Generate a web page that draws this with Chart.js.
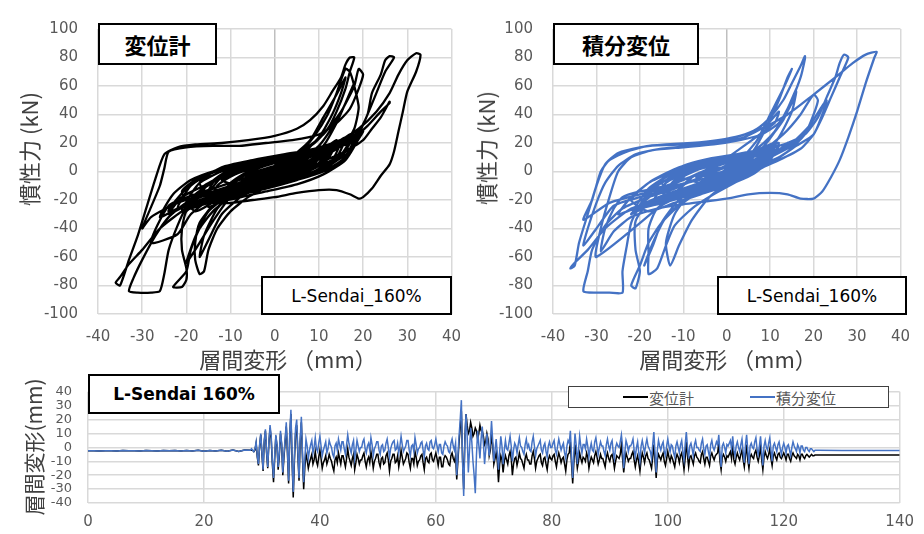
<!DOCTYPE html>
<html lang="ja">
<head>
<meta charset="utf-8">
<title>L-Sendai 160%</title>
<script src="https://cdn.jsdelivr.net/npm/chart.js@4.4.1/dist/chart.umd.min.js"></script>
<style>
  body { margin: 0; width: 924px; height: 534px; position: relative; overflow: hidden; background: #fff;
         font-family: "Noto Sans CJK JP", sans-serif; }
  canvas { position: absolute; }
  .box { position: absolute; box-sizing: border-box; border: 2px solid #000; background: #fff;
         display: flex; align-items: center; justify-content: center; color: #000; white-space: nowrap; }
  .title { position: absolute; white-space: nowrap; color: #404040; font-size: 22px; line-height: 1;
           transform: translate(-50%, -50%); }
  .vtitle { transform: translate(-50%, -50%) rotate(-90deg); }
  .legend { position: absolute; box-sizing: border-box; border: 1.5px solid #404040; background: #fff; }
  .legend span { position: absolute; top: 50%; transform: translateY(-50%); font-size: 15px; color: #595959; white-space: nowrap; }
  .legend i { position: absolute; top: 50%; height: 2px; width: 25px; margin-top: -1px; }
</style>
</head>
<body>
<canvas id="hystGauge" width="475" height="370" style="left:0;top:0"></canvas>
<canvas id="hystInteg" width="454" height="370" style="left:470px;top:0"></canvas>
<canvas id="history" width="924" height="166" style="left:0;top:368px"></canvas>

<div class="box" style="left:98px;top:23px;width:119px;height:42px;font-size:22px;font-weight:bold;">変位計</div>
<div class="box" style="left:261px;top:276px;width:191px;height:39px;font-size:17px;font-family:'DejaVu Sans';">L-Sendai_160%</div>
<div class="box" style="left:553px;top:23px;width:146px;height:42px;font-size:22px;font-weight:bold;">積分変位</div>
<div class="box" style="left:717px;top:276px;width:190px;height:39px;font-size:17px;font-family:'DejaVu Sans';">L-Sendai_160%</div>
<div class="box" style="left:88px;top:374px;width:192px;height:40px;font-size:17px;font-weight:bold;font-family:'DejaVu Sans';">L-Sendai 160%</div>

<div class="legend" style="left:568px;top:386px;width:321px;height:22px;">
  <i style="left:54px;background:#000;"></i><span style="left:80px;">変位計</span>
  <i style="left:181px;background:#4472C4;"></i><span style="left:207px;">積分変位</span>
</div>

<div class="title vtitle" style="left:28px;top:149px;">慣性力 (kN)</div>
<div class="title vtitle" style="left:485px;top:148px;">慣性力 (kN)</div>
<div class="title" style="left:288px;top:358px;">層間変形 （mm）</div>
<div class="title" style="left:728px;top:358px;">層間変形 （mm）</div>
<div class="title vtitle" style="left:33px;top:447px;font-size:21px;">層間変形(mm)</div>

<script>
// hysteresis, 変位計 : [drift mm, force kN]
const gaugeEarly = [
  [-2,-3],[2,3],[5,8],[1,2],[-4,-6],[-7,-10],[-2,-4],[4,5],[8,12],[3,4],[-6,-8],[-10,-13],[-4,-7],[5,6],
  [10,14],[4,5],[-8,-10],[-12,-15],[-6,-10],[2,-2],[8,8],[13,18],[14,22],[10,14],[2,2],[-6,-8],[-12,-14],
  [-18,-22],[-19,-26],[-14,-20],[-6,-13],[2,-4],[8,6],[12,14],[16,24],[17,26],[12,14],[4,2],[-4,-8],
  [-12,-16],[-20,-26],[-26,-40],[-30,-55],[-33,-65],[-35,-74],[-36,-78],[-35,-80]
];
const gaugeLarge = [
  [-33,-62],[-31,-45],[-29,-25],[-27,-5],[-25,12],[-22,17],[-18,19],[-12,20],[-6,22],[0,25],[5,30],[8,36],
  [11,46],[13,56],[15,66],[16,75],[17,80],[18,80],
  [17,70],[16,58],[14,42],[12,30],[9,20],[4,10],[-2,0],[-8,-8],[-15,-16],[-20,-22],[-24,-32],[-27,-45],
  [-30,-62],[-32,-75],[-33,-84],[-31,-85],[-28,-85],[-26,-84],
  [-25,-72],[-24,-55],[-22,-38],[-20,-25],[-17,-16],[-12,-10],[-6,-4],[0,2],[6,8],[12,16],[16,22],[19,28],
  [21,40],[22,55],[24,68],[25,78],[26,81],[27,80],
  [25,70],[23,55],[21,40],[19,26],[17,16],[13,8],[7,0],[0,-8],[-6,-14],[-12,-18],[-17,-22],[-20,-28],
  [-21,-40],[-21,-55],[-20,-68],[-20,-76],[-21,-81],[-23,-81],
  [-20,-70],[-19,-55],[-17,-40],[-14,-28],[-10,-18],[-4,-8],[2,0],[8,8],[14,16],[18,24],[20,28],
  [16,22],[10,10],[4,2],[-4,-8],[-10,-16],[-14,-24],[-17,-36],[-18,-50],[-18,-62],[-17,-72],[-16,-70],
  [-15,-55],[-13,-40],[-10,-28],[-6,-18],[0,-8],[6,2],[12,12],[16,20],[18,30],[19,45],[18,60],[17,70],[16,72],
  [14,55],[12,40],[9,25],[6,14],[2,4],[-4,-4],[-10,-10],[-16,-16],[-22,-22],[-28,-32],[-30,-40],
  [-28,-25],[-26,-10],[-25,2],[-24,14],[-20,17],[-14,18],[-8,18],[-2,20],[4,22],[10,26],[14,34],[17,44],
  [19,58],[20,68],[19,72],
  [18,60],[15,42],[11,26],[6,14],[0,4],[-6,-4],[-12,-10],[-18,-16],[-24,-24],[-28,-50],[-22,-44],[-19,-30],
  [-14,-18],[-8,-8],[-2,0],[4,6],[10,14],[15,22],[19,30],[23,42],[26,55],[28,68],[30,78],[32,83],[33,82],
  [32,70],[30,56],[29,42],[28,28],[27,14],[26,5],[24,-3],[22,-12],[20,-18],[19,-19],[17,-16],[14,-13],
  [10,-13],[5,-15],[0,-18],[-5,-20],[-10,-22],[-14,-22],
  [-10,-14],[-4,-6],[2,2],[8,10],[14,18],[18,24],[21,32],[24,42],[26,48],[26,49],[24,38],[22,30],[20,22],
  [16,14],[10,6],[4,-2],[-2,-8],[-8,-12]
];
const gaugeFan = [
  [-6,-2],[0,4],[6,12],[10,24],[13,40],[15,55],[16,66],[14,54],[11,38],[8,22],[3,8],[-3,-4],[-9,-14],
  [-13,-26],[-16,-45],[-17,-60],[-15,-48],[-12,-30],[-7,-16],[-1,-4],[6,6],[11,18],[14,34],[16,48],
  [18,62],[17,54],[14,36],[10,18],[4,4],[-4,-8],[-10,-18],[-14,-35],[-18,-55],[-20,-64],[-18,-46],
  [-15,-28],[-10,-16],[-4,-8]
];
const gaugeCore = [
  [-8,-10],[-6,-3],[-3,1],[0,3],[3,5],[6,8],[4,2],[1,-2],[-2,-5],[-5,-7],[-8,-10],
  [-12,-6],[-8,0],[-3,4],[2,7],[6,10],[10,14],[8,6],[4,0],[-1,-6],[-6,-11],[-10,-14],[-14,-18],
  [-17,-8],[-12,3],[-5,8],[2,12],[8,15],[12,18],[15,22],[13,8],[8,-2],[2,-8],[-5,-13],[-12,-17],[-17,-21],[-20,-25],
  [-16,-12],[-12,-2],[-6,5],[0,10],[6,14],[12,18],[16,22],[18,26],[15,10],[10,0],[4,-6],[-2,-12],[-8,-16],[-13,-20],[-18,-28],
  [-21,-14],[-17,-4],[-11,2],[-5,6],[2,10],[8,14],[12,18],[10,6],[5,-2],[-1,-9],[-8,-15],[-14,-20],[-20,-24],[-24,-30],
  [-21,-18],[-16,-10],[-10,-2],[-4,4],[2,9],[8,13],[14,17],[18,21],[20,28],[17,14],[12,4],[6,-4],[0,-10],[-6,-15],[-12,-20],
  [-10,-8],[-6,0],[0,6],[6,11],[12,16],[16,24],[14,10],[9,0],[3,-7],[-4,-12],[-11,-17],[-17,-21],[-22,-26],
  [-19,-10],[-14,0],[-8,5],[-1,9],[6,13],[14,20],[11,6],[6,-2],[0,-8],[-6,-13],[-12,-18],[-16,-22],
  [-14,-8],[-10,0],[-4,5],[2,10],[9,14],[15,18],[18,24],[16,10],[11,0],[5,-6],[-2,-12],[-9,-17],[-16,-21],[-22,-26],[-26,-32],
  [-23,-16],[-19,-6],[-13,1],[-6,6],[1,8],[6,11],[12,16],[9,6],[4,-2],[-2,-7],[-7,-11],[-10,-14],
  [-8,-4],[-4,2],[1,7],[8,12],[5,2],[0,-6],[-7,-12],[-14,-17],[-20,-22],
  [-17,-8],[-12,0],[-6,4],[0,7],[4,8],[11,13],[17,22],[14,8],[8,-1],[2,-8],[-5,-14],[-11,-19],[-15,-25],
  [-13,-10],[-9,-2],[-3,4],[3,8],[9,12],[13,16],[10,4],[4,-4],[-2,-10],[-8,-14],[-12,-16],
  [-24,-28],[-20,-12],[-15,-2],[-9,4],[-2,8],[5,12],[11,16],[16,20],[19,24],[16,8],[11,-2],[5,-9],[-2,-14],
  [-9,-19],[-16,-23],[-21,-27],
  [-18,-16],[-13,-6],[-7,1],[0,6],[7,10],[13,14],[10,2],[4,-6],[-3,-12],[-10,-17],[-16,-21],
  [-12,-4],[-6,3],[1,8],[8,13],[13,18],[11,8],[6,-1],[0,-7],[-7,-13],[-13,-19],[-19,-25],
  [-16,-10],[-10,-1],[-3,5],[4,9],[10,13],[7,3],[1,-5],[-5,-10],[-11,-15],
  [-7,-3],[-1,3],[6,8],[3,-1],[-3,-7],[-8,-11],[-4,-4],[0,0]
];

// hysteresis, 積分変位
const integEarly = [
  [-2,-2],[3,4],[6,9],[2,3],[-4,-5],[-8,-10],[-3,-5],[4,4],[9,12],[4,5],[-6,-8],[-11,-14],[-5,-8],[4,4],
  [11,15],[5,6],[-8,-10],[-14,-18],[-8,-12],[2,-2],[9,8],[14,20],[12,14],[4,3],[-6,-8],[-14,-16],
  [-20,-24],[-22,-30],[-18,-24],[-8,-12],[2,-2],[10,10],[15,18],[18,28],[16,22],
  [10,12],[2,0],[-6,-10],[-14,-18],[-22,-26],[-28,-40],[-32,-55],[-35,-64],[-36,-68],[-35,-66]
];
const integLarge = [
  [-34,-50],[-32,-30],[-30,-10],[-28,5],[-25,13],[-20,17],[-14,19],[-8,20],[-2,22],[3,25],[7,30],[10,38],
  [13,50],[15,62],[17,74],[18,81],[18,79],
  [17,66],[15,50],[13,36],[10,24],[6,14],[0,4],[-6,-4],[-12,-12],[-18,-18],[-24,-26],[-28,-38],[-31,-55],
  [-32,-70],[-33,-84],[-30,-85],[-27,-85],[-24,-85],
  [-24,-70],[-23,-52],[-22,-36],[-20,-24],[-16,-14],[-10,-6],[-4,2],[2,8],[8,14],[14,20],[18,26],[21,38],
  [23,52],[25,66],[26,76],[27,82],[28,80],
  [26,66],[24,52],[22,38],[20,26],[17,16],[12,8],[6,0],[0,-8],[-6,-14],[-12,-18],[-18,-22],[-21,-35],
  [-21,-55],[-20,-70],[-21,-82],[-22,-80],
  [-20,-66],[-18,-50],[-15,-36],[-11,-24],[-6,-14],[0,-6],[6,2],[12,10],[16,18],[20,26],[22,40],[23,50],[22,46],
  [19,32],[15,20],[10,10],[4,2],[-4,-8],[-10,-16],[-16,-26],[-18,-40],[-18,-58],[-18,-72],[-16,-68],
  [-14,-52],[-12,-38],[-8,-26],[-3,-16],[3,-6],[9,4],[14,14],[18,26],[20,40],[21,50],[20,54],
  [17,40],[13,26],[8,14],[2,4],[-4,-4],[-12,-10],[-20,-16],[-27,-22],[-33,-34],
  [-31,-20],[-29,0],[-27,8],[-23,14],[-18,18],[-10,19],[-4,20],[2,24],[8,30],[14,40],[20,54],[25,66],
  [29,76],[32,82],[34.5,84],[34,80],
  [32,62],[30,42],[28,24],[26,8],[24,-4],[22,-14],[20,-19],[17,-19],[14,-16],[10,-15],[5,-16],[0,-19],
  [-5,-21],[-10,-23],[-16,-26],[-22,-32],[-26,-42],[-29,-56],
  [-28,-40],[-26,-26],[-24,-18],[-20,-14],[-14,-10],[-8,-4]
];
const integFan = [
  [-30,-60],[-29,-40],[-27,-18],[-25,0],[-22,10],[-17,15],[-10,17],[-3,19],[3,22],[8,26],[12,34],[15,48],
  [16,58],[14,44],[11,28],[7,16],[1,6],[-6,-4],[-13,-12],[-20,-18],[-26,-24],[-30,-40],[-33,-52],
  [-32,-40],[-30,-22],[-28,-8],[-25,4],[-21,12],[-15,16],[-8,18],[-2,20],[4,24],[9,32],[12,42],[11,34],
  [-4,0],[2,6],[6,14],[9,30],[12,50],[14,66],[15,72],[13,58],[10,40],[7,22],[3,8],[-3,-4],[-8,-14],
  [-12,-30],[-14,-50],[-13,-66],[-11,-52],[-8,-34],[-4,-18],[2,-4],[8,8],[12,24],[15,42],[16,56],[15,48],
  [12,32],[8,16],[2,4],[-5,-8],[-11,-20],[-15,-36],[-17,-52],[-19,-66],[-17,-50],[-14,-32],[-9,-18],[-3,-6]
];
const integCore = [
  [-6,-8],[-4,-2],[-1,2],[2,4],[5,7],[3,1],[0,-3],[-3,-6],[-6,-8],
  [-10,-4],[-6,2],[-1,6],[4,9],[9,14],[7,4],[2,-3],[-3,-8],[-8,-12],[-13,-17],
  [-15,-6],[-10,4],[-4,9],[2,12],[7,15],[11,20],[9,6],[4,-4],[-2,-10],[-9,-15],[-15,-20],[-20,-26],
  [-18,-14],[-14,-4],[-8,4],[-2,9],[4,13],[9,16],[12,20],[10,8],[6,-2],[0,-10],[-6,-16],[-12,-22],[-18,-28],
  [-22,-20],[-18,-8],[-12,0],[-6,6],[0,10],[6,13],[10,16],[8,4],[3,-4],[-3,-11],[-10,-17],[-16,-22],[-22,-27],[-25,-30],
  [-22,-18],[-17,-6],[-11,3],[-4,8],[3,12],[8,15],[12,18],[9,6],[4,-3],[-2,-10],[-8,-15],[-14,-20],
  [-12,-8],[-8,0],[-3,5],[3,9],[8,12],[11,17],[8,4],[3,-5],[-3,-12],[-10,-18],[-16,-23],[-21,-26],
  [-18,-12],[-13,-2],[-7,4],[-1,8],[5,11],[10,14],[7,3],[2,-5],[-4,-11],[-10,-15],[-15,-19],
  [-12,-6],[-7,1],[-2,5],[4,9],[9,13],[6,2],[1,-5],[-5,-10],[-10,-13],
  [-20,-24],[-16,-10],[-11,-1],[-5,5],[1,9],[7,13],[11,17],[9,6],[4,-2],[-2,-9],[-9,-15],[-15,-20],[-20,-25],
  [-17,-12],[-12,-3],[-6,3],[0,7],[6,11],[10,14],[7,2],[2,-6],[-4,-12],[-11,-18],[-17,-22],
  [-14,-8],[-9,0],[-3,5],[3,8],[8,11],[5,1],[0,-6],[-6,-11],[-12,-16],
  [-8,-4],[-4,1],[1,4],[5,6],[2,-1],[-2,-5],[-6,-8],[-2,-2],[1,1],
  [-7,-4],[-3,1],[2,4],[6,8],[3,1],[-1,-4],[-5,-7],[-2,-2],[2,2],[5,4]
];

// time history of drift (mm): quiet part, 1 s step from 0 s (both records identical)
const quietValues = [
  -2.4,-2.4,-2.5,-2.4,-2.4,-2.5,-2.3,-2.4,-2.4,-2.5,-2.3,-2.4,-2.5,-2.3,
  -2.4,-2.2,-2.6,-2.3,-2.5,-2.1,-2.7,-2.2,-2.6,-2.0,-2.8,-1.9,-2.9,-1.8
];
// strong motion part, 0.2 s step from 28 s to 126 s (one row = 4 s)
const gaugeActive = [
  -2,-2,-2,-3,-2,3,-7,-13,1,9,-5,-17,4,12,-4,-15,3,14,6,-12,
  -25,-8,8,1,-16,-6,10,2,-20,-7,4,15,-4,-26,8,24,-10,-36,-10,10,
  16,-6,-24,4,18,-8,-30,-14,-5,-9,-15,-11,-8,-5,-12,-9,-3,-10,-13,-7,
  -2,-8,-15,-11,-9,-6,-12,-9,-5,-8,-10,-14,-17,-9,-7,-11,-4,-8,-12,-6,
  -6,-10,-14,-8,-1,-7,-10,-13,-8,-5,-16,-11,-5,-8,-12,-9,-9,-6,-4,-10,
  -14,-9,-7,-11,-3,-8,-15,-10,-8,-5,-5,-11,-14,-8,-7,-12,-11,-6,-4,-9,
  -17,-10,-8,-5,-5,-11,-10,-6,-14,-9,-2,-7,-12,-10,-8,-4,-5,-11,-15,-8,
  -8,-12,-3,-7,-13,-10,-9,-6,-5,-11,-16,-8,-7,-10,-11,-5,-4,-9,-10,-7,
  -4,-8,-13,-7,-7,-14,-14,-8,-6,-7,-9,-12,-13,-6,-4,-8,-10,-6,-23,-10,
  4,14,26,-8,-30,6,24,16,10,12,18,14,8,10,14,12,6,10,16,12,
  12,8,2,4,10,6,-6,-2,8,2,-12,-8,-4,-10,-25,-12,-6,-9,-18,-10,
  -6,-9,-12,-6,-3,-8,-20,-12,-8,-7,-13,-9,-4,-8,-9,-12,-15,-8,-5,-9,
  -9,-12,-12,-6,-3,-8,-15,-10,-8,-6,-5,-11,-13,-8,-7,-12,-16,-9,-6,-8,
  -9,-6,-5,-10,-14,-8,-4,-7,-11,-8,-7,-12,-17,-9,-5,-4,4,-12,-26,-11,
  2,-6,-15,-10,-4,-8,-11,-7,-8,-10,-4,-7,-15,-10,-7,-9,-11,-6,-3,-7,
  -12,-9,-5,-8,-8,-11,-14,-7,-4,-8,-10,-6,-5,-9,-15,-10,-6,-7,-8,-5,
  2,-8,-18,-10,-4,-7,-10,-8,-8,-5,-3,-9,-14,-9,-6,-11,-17,-9,-4,-7,
  -11,-6,-4,-8,-9,-12,-15,-7,2,-10,-22,-9,-5,-7,-9,-6,-4,-10,-13,-8,
  -3,-7,-10,-6,-8,-11,-14,-8,-5,-7,-11,-6,-4,-9,-16,-8,4,-6,-14,-7,
  -6,-9,-12,-6,-4,-7,-8,-10,-11,-5,-3,-8,-12,-7,-7,-10,-13,-6,-4,-7,
  -9,-6,-5,-4,3,-10,-16,-7,-5,-7,-10,-6,-7,-5,-3,-8,2,-9,-12,-7,
  -4,-7,-9,-5,-2,-9,-14,-6,2,-9,-15,-7,-5,-7,-8,-4,-2,-7,-10,-6,
  1,-9,-16,-7,-3,-6,-8,-5,-1,-8,-13,-6,-4,-7,-9,-5,-4,-7,-8,-6,
  -4,-6,-9,-5,-5,-8,-10,-6,-4,-6,-7,-8,-5,-6,-9,-5,-5,-7,-8,-6,
  -5,-6,-7,-6,-5,-6,-6,-5.5,-5.5,-5.5,-5.5
];
const integActive = [
  -2,-1,-2,-3,-1,4,-6,-12,2,10,-4,-16,5,13,-3,-14,4,16,8,-10,
  -22,-6,9,2,-14,-4,12,3,-18,-5,6,18,-2,-24,10,27,-8,-32,-6,14,
  20,-4,-22,6,22,-5,-25,-8,6,1,-8,-2,2,5,-4,0,7,-1,-3,3,
  8,1,-6,-2,1,4,-4,-1,5,2,0,-5,-7,1,3,-2,6,2,-2,4,
  4,-1,-5,2,9,3,-1,-4,2,5,-8,-2,5,1,-3,0,0,4,6,-1,
  -4,1,3,-2,7,2,-6,-1,1,4,4,-2,-5,1,2,-3,-2,3,6,0,
  -7,-1,2,4,5,-2,-1,3,-4,1,8,2,-3,-1,1,5,5,-2,-6,1,
  2,-3,7,2,-4,-1,0,3,4,-2,-7,1,3,-1,-2,4,5,0,-1,2,
  6,1,-3,2,2,-4,-5,1,4,2,1,-3,-4,3,6,1,-2,3,-20,-6,
  8,20,34,-10,-35,4,24,8,-18,-2,14,4,-10,-20,-33,-6,12,2,-8,6,
  15,3,-12,-2,10,2,-6,4,19,5,-10,-2,6,-4,-16,-3,8,1,-12,-2,
  5,-1,-2,3,8,1,-10,-2,3,1,-4,2,7,1,0,-3,-5,2,6,0,
  2,-2,-3,4,8,1,-6,-1,1,3,5,-2,-4,1,3,-3,-7,1,4,0,
  0,3,5,-2,-5,1,6,2,-2,1,3,-4,-8,1,5,3,12,-6,-22,-4,
  10,2,-12,-2,8,1,-4,2,2,-1,6,1,-7,-1,3,-2,-3,4,7,1,
  -5,0,4,1,1,-3,-6,2,6,1,-2,3,5,-4,-8,0,3,1,0,4,
  9,1,-15,-3,5,2,-3,1,1,3,6,-2,-7,0,4,-4,-10,1,5,0,
  -4,2,6,1,-1,-3,-8,2,11,-4,-18,-2,5,1,-2,2,4,-3,-6,1,
  6,1,-3,2,1,-4,-7,1,4,0,-4,2,5,-3,-9,2,11,0,-8,1,
  3,-1,-6,2,5,0,0,-2,-3,3,6,-1,-5,1,2,-3,-7,2,5,0,
  -2,1,4,2,9,-4,-14,1,3,0,-4,2,1,3,5,-1,8,-2,-6,1,
  4,0,-3,2,6,-3,-11,2,9,-2,-12,1,3,0,-1,4,7,-1,-5,1,
  8,-3,-13,1,5,0,-2,3,7,-2,-10,1,3,0,-3,2,4,-1,-5,0,
  3,0,-4,1,2,-2,-6,0,4,1,-1,-3,2,0,-4,1,1,-2,-3,0,
  0,-2,-3,-1,-1,-2,-3,-2,-2,-2,-2
];
// residual drift after shaking
const tailTimes = [130, 140];
const gaugeTail = [-5.5, -5.5];
const integTail = [-2.2, -2.2];

const BLACK = '#000000';
const BLUE = '#4472C4';
const TICK_COLOR = '#595959';

function toPoints(list) {
  return list.map(p => ({ x: p[0], y: p[1] }));
}

function historyPoints(active, tail) {
  const pts = [];
  quietValues.forEach((v, i) => pts.push({ x: i, y: v }));
  active.forEach((v, i) => pts.push({ x: 28 + i * 0.2, y: v }));
  tail.forEach((v, i) => pts.push({ x: tailTimes[i], y: v }));
  return pts;
}

function hystChart(id, points, color, padRight) {
  return new Chart(document.getElementById(id), {
    type: 'scatter',
    data: {
      datasets: [{
        data: points,
        showLine: true,
        borderColor: color,
        borderWidth: 2.3,
        pointRadius: 0,
        tension: 0.2,
        fill: false
      }]
    },
    options: {
      responsive: false,
      animation: false,
      devicePixelRatio: 1,
      layout: { padding: { left: 0, right: padRight, top: 24, bottom: 0 } },
      plugins: { legend: { display: false }, tooltip: { enabled: false } },
      scales: {
        x: {
          type: 'linear', min: -40, max: 40,
          ticks: { stepSize: 10, color: TICK_COLOR, padding: 14, font: { family: 'DejaVu Sans', size: 15 } },
          grid: { color: c => (c.tick && c.tick.value === 0 ? '#bfbfbf' : '#d9d9d9'), lineWidth: 1.5, drawTicks: false },
          border: { display: false },
          afterFit: s => { s.height = 56; }
        },
        y: {
          min: -100, max: 100,
          ticks: { stepSize: 20, color: TICK_COLOR, padding: 20, font: { family: 'DejaVu Sans', size: 15 } },
          grid: { color: '#d9d9d9', lineWidth: 1.5, drawTicks: false },
          border: { display: false },
          afterFit: s => { s.width = id === 'hystGauge' ? 98 : 83; }
        }
      }
    }
  });
}

hystChart('hystGauge', toPoints([...gaugeEarly, ...gaugeLarge, ...gaugeFan, ...gaugeCore]), BLACK, 21);
hystChart('hystInteg', toPoints([...integEarly, ...integLarge, ...integFan, ...integCore]), BLUE, 16);

new Chart(document.getElementById('history'), {
  type: 'scatter',
  data: {
    datasets: [
      { label: '変位計', data: historyPoints(gaugeActive, gaugeTail), showLine: true,
        borderColor: BLACK, borderWidth: 1.5, pointRadius: 0, tension: 0, order: 1 },
      { label: '積分変位', data: historyPoints(integActive, integTail), showLine: true,
        borderColor: BLUE, borderWidth: 1.5, pointRadius: 0, tension: 0, order: 0 }
    ]
  },
  options: {
    responsive: false,
    animation: false,
    devicePixelRatio: 1,
    layout: { padding: { left: 0, right: 16, top: 10, bottom: 0 } },
    plugins: { legend: { display: false }, tooltip: { enabled: false } },
    scales: {
      x: {
        type: 'linear', min: 0, max: 140,
        ticks: { stepSize: 20, color: TICK_COLOR, padding: 10, font: { family: 'DejaVu Sans', size: 15 } },
        grid: { color: '#d9d9d9', lineWidth: 1.5, drawTicks: false },
        border: { display: false },
        afterFit: s => { s.height = 31; }
      },
      y: {
        min: -40, max: 40,
        ticks: { stepSize: 10, autoSkip: false, color: TICK_COLOR, padding: 16, font: { family: 'DejaVu Sans', size: 13 } },
        grid: { color: '#d9d9d9', lineWidth: 1.5, drawTicks: false },
        border: { display: false },
        afterFit: s => { s.width = 88; }
      }
    }
  }
});
</script>
</body>
</html>
